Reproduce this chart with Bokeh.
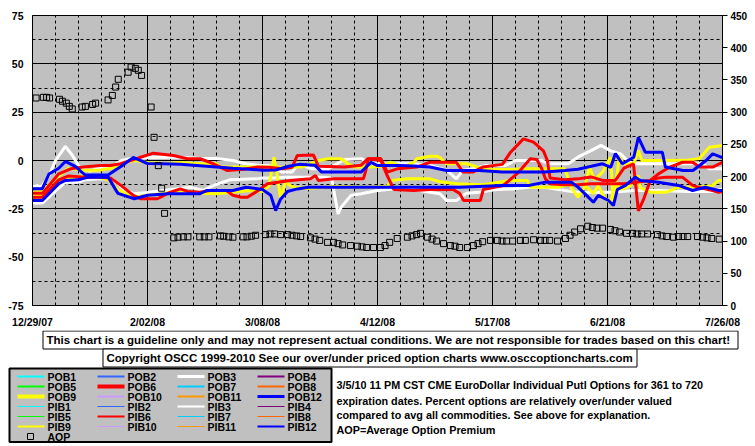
from bokeh.plotting import figure
from bokeh.models import Range1d, LinearAxis, FixedTicker
from bokeh.layouts import column
from bokeh.embed import file_html
from bokeh.resources import INLINE
from bokeh.core.properties import value

# ---------------- data (x = days since 12/29/07) ----------------
date_ticks = [0, 35, 70, 105, 140, 175, 210]
date_labels = ["12/29/07", "2/02/08", "3/08/08", "4/12/08", "5/17/08", "6/21/08", "7/26/08"]
week_ticks = [7, 14, 21, 28, 42, 49, 56, 63, 77, 84, 91, 98, 112, 119, 126, 133,
              147, 154, 161, 168, 182, 189, 196, 203]
pct_ticks = [-75, -50, -25, 0, 25, 50, 75]
pct_labels = ["-75", "-50", "-25", "0", "25", "50", "75"]
pct_minor = [-62.5, -37.5, -12.5, 12.5, 37.5, 62.5]
aop_ticks = [0, 50, 100, 150, 200, 250, 300, 350, 400, 450]

pob3_x = [0, 3, 5, 7, 10, 12, 14.5, 17.5, 20, 24, 27, 30, 35, 40, 45, 51, 56, 61, 65, 69,
          72, 76, 79, 81, 85, 90, 95, 100, 104, 110, 116, 121, 126, 129, 131, 134, 138, 144,
          147, 155, 157, 163, 166, 171, 173, 176, 179, 181, 183, 195, 204, 206, 210]
pob3_y = [-13, -13, -8, 0, 7.3, 3, -4, -5.5, -4, -3.4, 0, 1, 1.5, 1.7, 1.7, 1, 1, 0, -1.7, -2.6,
          -2.6, -6, -6, -1.7, -4.3, -4.3, 0.5, 0.9, -1.7, -1.7, -1.7, -2.6, -5, -9.5, -5, -4.3,
          -2.6, -2.6, 0, 0, -1.7, -1.7, 1.7, 6, 7.8, 5, 3.4, 0, -1.7, -1.7, -1.7, -4.3, -4.3]

pib3_x = [0, 3, 5.5, 10, 14, 16, 20, 24, 26, 28, 31, 35, 40, 45, 48, 52, 55, 60, 68, 70,
          74, 77, 80, 84, 88, 91, 93, 94, 97, 100, 105, 110, 116, 121, 124, 126, 129, 132,
          136, 141, 146, 151, 156, 162, 166, 176, 183, 190, 200, 207, 210]
pib3_y = [-22, -22, -18, -11.2, -11.2, -10, -9.5, -9.5, -12, -15.5, -17.2, -16.5, -15.5, -14.5,
          -13.8, -15.5, -13, -10, -9.5, -9, -9, -8.6, -8.6, -8.6, -8.6, -9, -27.6, -24, -18,
          -17.2, -15.5, -14.7, -15, -16.4, -17.2, -20.7, -20.7, -17, -16.4, -15, -14.7, -13.8,
          -13.8, -15.5, -16.4, -16.4, -15.5, -15.5, -16, -16, -14.7]

pob9_x = [0, 3, 8, 11, 15, 20, 24, 28, 31, 35, 40, 45, 51, 56, 57, 65, 71, 76, 79, 82,
          85.5, 87, 90, 94, 96, 98, 103, 106, 109, 113, 116, 117, 121, 123, 124, 126, 132,
          134, 137, 141, 145, 150, 156, 162, 164, 166, 168, 169.5, 171, 173.5, 175.9, 176.8,
          178.6, 180, 183, 184.4, 185.5, 191.7, 199.7, 203, 206, 210]
pob9_y = [-16.4, -16, -8, -4, -5, -5, -4, -1, 0, -1, -1.5, -1, -1.7, -1.7, -3.4, -3.4, -3.4,
          -3.5, -3.4, -3.4, -1, 0, 0.9, 0.9, -1.7, -3.4, -3.4, -3, -0.9, -3.4, -1, 0.9, 2.2,
          2.2, 1.5, -1.7, -1.7, -2.6, -4.3, -4.7, -4.7, -4.3, -4.3, -4.3, -14, -19, -14, -3.4,
          -10, -6, 1.7, -20.7, 1.7, -1.7, -1.7, 5.2, 0, 0, 0.3, 1, 6.9, 7.8]

pib9_x = [0, 3, 8, 11, 15, 20, 23, 26, 30.7, 35, 40, 45, 51, 56, 61, 66, 70, 72, 73.5, 74.5,
          75.5, 77, 78.5, 80, 83, 88, 92, 100, 103, 108, 109, 114, 121, 124, 129, 137, 143,
          145, 150.6, 151.5, 156, 160, 164, 168, 170.7, 172.2, 174, 175.9, 177.4, 179.5, 182,
          184.4, 185, 188, 193, 196.6, 203, 207, 208.8, 210]
pib9_y = [-18, -18, -12, -9, -8, -8.6, -10, -15, -19, -18, -17, -16.4, -17, -17.2, -16.4,
          -15.5, -16, -13, 1.7, -8, -19, -11.2, -13, -14, -14.5, -14, -13.5, -13.8, -13.8,
          -13.5, -10.3, -9.5, -9.5, -11, -12, -12.5, -11, -10.3, -10.3, -13.8, -13.8, -13.8,
          -12, -12.5, -17, -13, -19, -22, -12, -15, -13, -7.8, -14, -16.4, -16.4, -13.8,
          -13.8, -12.9, -10.3, -10.3]

pob6_x = [0, 3, 8, 11.6, 15.5, 20.7, 23.7, 26.8, 32.9, 36.8, 42.9, 47.2, 51.1, 55.1, 59.3,
          64.2, 68.5, 72, 76, 79, 80.6, 85.5, 87, 95, 100, 102, 106, 108, 111, 117, 121, 129,
          131, 134, 137, 143, 145.5, 149.4, 152.5, 155.5, 156.7, 157.5, 162, 166, 170, 173.5,
          177.4, 180, 182.9, 184.4, 186, 188, 190.5, 194, 197.8, 200.9, 203, 207, 210]
pob6_y = [-17, -17, -6.9, -4.3, -3.4, -2.6, -2.6, -1.7, 1.7, 3.8, 2.6, 0.9, 0.9, -1.7, -5.2,
          -4.5, -3.4, -3.5, -4.3, -3.5, 2.6, 2.9, -3, -3.4, -2.5, 0.9, 1, -6, -4.3, -3.4, -0.9,
          -0.9, -6, -6, -3.4, -2, 4.3, 11.2, 9.5, 5, 0, -9, -10, -9.5, -8.5, -10.3, -10.3, -4,
          -1.7, -26, -20, -10.3, -6.9, -3.4, -0.9, -0.9, -3.4, -3.4, -0.9]

pib6_x = [0, 3, 8, 11, 16, 20, 23.7, 27, 30.7, 33, 38, 42, 45, 47.2, 51, 54, 59, 61, 63.5,
          65.4, 67.3, 69.4, 71.5, 78.5, 84.6, 86.1, 87, 91.6, 100.7, 101.3, 102.3, 106, 108,
          110, 116, 121, 128, 130, 131.2, 136.3, 137.2, 143.3, 148, 151.5, 153.5, 155, 156.1,
          157.5, 162, 166, 170, 175, 180, 185, 188, 190.5, 193, 197.8, 200.9, 203, 207,
          208.8, 210]
pib6_y = [-19, -19, -10, -8, -8.6, -8.6, -9, -13, -18, -19.8, -19.8, -16.4, -14.7, -16, -16.4,
          -15.5, -15.5, -18, -19, -19, -17, -14.7, -12, -10.3, -9.5, -7.8, -10.3, -9.5, -9.5,
          -6, 0.9, 0, -8, -15, -15.5, -15, -15, -17, -20.7, -20.7, -15, -12.9, -6, 0.9, 0.5,
          -4.3, -9.5, -12, -12.5, -12.5, -12, -12, -12, -11, -10.3, -9, -8.6, -8.6, -12.9,
          -14, -15.5, -16.4, -16]

pob12_x = [0, 3, 5, 8, 10, 13, 16, 20, 23, 27, 30.7, 35, 40, 45, 50, 56, 61, 66, 70, 74,
           78, 81, 86, 88, 100, 103, 105, 112, 116, 121, 126, 136, 143, 156, 162, 166, 173.5,
           176, 177.4, 179.5, 183, 184.4, 186.5, 191.7, 192.6, 198, 201, 205, 207, 210]
pob12_y = [-14.6, -14.6, -7, -4, -0.5, -3, -7.5, -7.5, -7.5, -3, 1.6, -1.6, -1.7, -2, -2.6,
           -3.4, -4, -4.5, -5, -4.9, -3, -2, -2.5, -6, -6, -1, -2.6, -2.6, -2.8, -3.4, -5.2,
           -5.2, -6, -6, -5.2, -4.5, -1.7, -3.5, 3.6, -1.7, 1.7, 12, 4.3, 4.3, -3.4, -5.2,
           -5.2, 0, 3.4, 1.5]

pib12_x = [0, 3, 8, 10, 14, 17, 23, 26, 31, 35, 41, 51, 53, 61, 65, 70, 72.5, 74, 75.5,
           77.6, 80.6, 84, 100, 113, 130, 143, 151, 156, 164, 166, 168, 170.7, 172.2, 175.3,
           176.8, 178, 180.5, 183.5, 185, 190.5, 196.6, 200.9, 204.8, 208.8, 210]
pib12_y = [-20.7, -20.7, -12, -10.3, -10, -8.6, -8.6, -17, -19.8, -18, -17.2, -17.2, -15.5,
           -15.5, -13.8, -15, -18, -25.9, -20, -16, -14.7, -13.8, -13.8, -13.8, -13.8, -12.9,
           -12.9, -11.2, -11.2, -13.8, -17, -21.6, -18, -20.7, -23.3, -15, -12.9, -8.6, -10.3,
           -11.2, -12.9, -15.5, -13.8, -15.5, -15.5]

aop_x = [1.1, 3.3, 4.3, 5.2, 8.2, 9.1, 10.3, 11.2, 12.1, 15.1, 16.1, 18.3, 19.2, 23.0, 24.3,
         25.3, 26.1, 29.1, 30.0, 31.3, 32.2, 33.2, 36.1, 37.0, 38.3, 39.3, 40.2, 43.0, 44.3,
         45.9, 47.3, 50.9, 52.3, 53.7, 57.2, 58.2, 59.7, 61.0, 64.1, 65.3, 66.6, 67.9, 70.9,
         72.3, 73.7, 75.5, 77.6, 79.0, 80.4, 81.6, 84.6, 86.0, 87.4, 89.8, 91.6, 93.0, 94.4,
         96.8, 98.9, 100.3, 101.7, 103.8, 105.9, 107.3, 108.7, 111.0, 114.1, 115.5, 116.9,
         118.1, 120.2, 121.6, 123.0, 125.1, 127.2, 128.6, 130.0, 132.4, 134.2, 135.6, 137.0,
         139.4, 141.5, 142.9, 144.3, 146.1, 148.5, 150.0, 152.5, 154.6, 156.0, 157.4, 159.8,
         162.2, 163.6, 165.0, 166.8, 169.0, 170.4, 171.8, 173.5, 175.9, 177.3, 178.7, 180.8,
         182.6, 184.0, 185.4, 187.2, 190.2, 191.6, 193.0, 195.1, 196.6, 198.0, 199.4, 202.4,
         203.9, 205.3, 206.7, 209.0]
aop_y = [322, 323, 323, 322, 320, 317, 314, 309, 305, 308, 309, 312, 314, 319, 326, 339, 351,
         362, 370, 368, 365, 357, 308, 261, 217, 182, 143, 105, 106, 106.5, 106.5, 106.5,
         106.5, 106.5, 108, 107.5, 106.5, 106, 106.5, 106.5, 107.5, 109, 110, 111, 111, 110,
         110, 109, 108, 107, 105, 103, 101, 98, 98, 96, 94, 93, 92, 91, 90, 90, 90, 93, 98,
         104, 106, 108, 110, 112, 106, 103, 100, 96, 93, 92, 90, 90, 93, 96, 99, 101, 101, 100,
         100, 100, 101, 101, 102, 101, 101, 101, 100, 104, 109, 114, 119, 123, 121, 120, 120,
         118, 116, 114, 112, 112, 111, 111, 111, 110, 108, 107, 106, 107, 107, 107, 107, 106,
         105, 104, 103]

legend_names = ["POB1", "POB2", "POB3", "POB4", "POB5", "POB6", "POB7", "POB8", "POB9",
                "POB10", "POB11", "POB12", "PIB1", "PIB2", "PIB3", "PIB4", "PIB5", "PIB6",
                "PIB7", "PIB8", "PIB9", "PIB10", "PIB11", "PIB12"]
legend_colors = ["#00FFFF", "#3366FF", "#FFFFFF", "#800080", "#00FF00", "#FF0000", "#00CCFF",
                 "#FF6600", "#FFFF00", "#CC99FF", "#FF9900", "#0000FF"] * 2
legend_widths = [2, 2, 3, 2, 2, 4, 2, 2, 4, 2, 2, 3, 1, 1, 2, 1, 1, 2, 1, 1, 2, 1, 1, 2]

note_lines = ["3/5/10 11 PM CST CME EuroDollar Individual Putl Options for 361 to 720",
              "expiration dates. Percent options are relatively over/under valued",
              "compared to avg all commodities. See above for explanation.",
              "AOP=Average Option Premium"]
disclaimer = "This chart is a guideline only and may not represent actual conditions. We are not responsible for trades based on this chart!"
copyright_text = "Copyright OSCC 1999-2010 See our over/under priced option charts www.osccoptioncharts.com"

FONT = "Liberation Sans"

# ---------------- main chart ----------------
p = figure(frame_width=690, frame_height=290, x_range=Range1d(0, 210), y_range=Range1d(-75, 75),
           output_backend="svg", toolbar_location=None,
           min_border_left=32, min_border_right=25, min_border_top=15, min_border_bottom=25,
           background_fill_color="#C0C0C0", border_fill_color="white",
           outline_line_color="black")
p.frame_align = False
p.extra_y_ranges = {"aop": Range1d(0, 450)}

p.xaxis.ticker = FixedTicker(ticks=date_ticks)
p.xaxis.major_label_overrides = dict(zip(date_ticks, date_labels))
p.yaxis.ticker = FixedTicker(ticks=pct_ticks)
p.yaxis.major_label_overrides = dict(zip(pct_ticks, pct_labels))
for ax in (p.xaxis, p.yaxis):
    ax.major_tick_out = 0
    ax.major_tick_in = 0
    ax.minor_tick_out = 0
    ax.minor_tick_in = 0
    ax.axis_line_color = "black"
    ax.major_label_text_font = FONT
    ax.major_label_text_font_style = "bold"
    ax.major_label_text_font_size = "10.5px"
    ax.major_label_text_color = "black"
p.xaxis.major_label_standoff = 10
p.yaxis.major_label_standoff = 9

rax = LinearAxis(y_range_name="aop", ticker=FixedTicker(ticks=aop_ticks))
rax.major_tick_out = 5
rax.major_tick_in = 0
rax.minor_tick_out = 0
rax.minor_tick_in = 0
rax.major_label_standoff = 3
rax.major_label_text_font = FONT
rax.major_label_text_font_style = "bold"
rax.major_label_text_font_size = "10px"
rax.major_label_text_color = "black"
rax.axis_line_color = "black"
rax.major_tick_line_color = "black"
p.add_layout(rax, "right")

p.xgrid.ticker = FixedTicker(ticks=date_ticks, minor_ticks=week_ticks)
p.ygrid.ticker = FixedTicker(ticks=pct_ticks, minor_ticks=pct_minor)
for g in (p.xgrid, p.ygrid):
    g.grid_line_color = "black"
    g.grid_line_width = 1
    g.grid_line_alpha = 1
    g.minor_grid_line_color = "black"
    g.minor_grid_line_dash = "3 3"
    g.minor_grid_line_width = 1

series = [
    (pob3_x, pob3_y, "#FFFFFF"), (pib3_x, pib3_y, "#FFFFFF"),
    (pob9_x, pob9_y, "#FFFF00"), (pib9_x, pib9_y, "#FFFF00"),
    (pib6_x, pib6_y, "#FF0000"), (pob6_x, pob6_y, "#FF0000"),
    (pib12_x, pib12_y, "#0000FF"), (pob12_x, pob12_y, "#0000FF"),
]
for xs, ys, c in series:
    p.line(xs, ys, line_color=c, line_width=3)

p.scatter(aop_x, aop_y, marker="square", size=6, fill_color=None, line_color="black",
          line_width=1, y_range_name="aop")

# ---------------- lower panel (notes + legend), coordinates in page pixels ----------------
q = figure(frame_width=747, frame_height=116, x_range=Range1d(0, 747), y_range=Range1d(446, 330),
           output_backend="svg", toolbar_location=None,
           min_border_left=0, min_border_right=0, min_border_top=0, min_border_bottom=0,
           x_axis_location=None, y_axis_location=None,
           background_fill_color="white", border_fill_color="white", outline_line_color=None)
q.frame_align = False
q.xgrid.visible = False
q.ygrid.visible = False

q.quad(left=[42.5, 102.5], right=[737.5, 636.5], top=[330.5, 348.5], bottom=[348.5, 366.5],
       fill_color="white", line_color="black", line_width=1)
q.text(x=[46, 106], y=[339.5, 357.5], text=[disclaimer, copyright_text],
       text_font=value(FONT), text_font_style="bold", text_font_size=value("11.5px"),
       text_baseline="middle", text_align="left", text_color="black")

# legend box
q.quad(left=[9], right=[331], top=[368], bottom=[441.5], fill_color="#C0C0C0",
       line_color="black", line_width=2)
row_y = [376 + 10 * r for r in range(7)]
col_x = [17, 97, 177, 257]
seg_x0, seg_x1, seg_y, seg_c, seg_w, lab_x, lab_y = [], [], [], [], [], [], []
for i, name in enumerate(legend_names):
    r, c = divmod(i, 4)
    seg_x0.append(col_x[c]); seg_x1.append(col_x[c] + 27); seg_y.append(row_y[r])
    seg_c.append(legend_colors[i]); seg_w.append(legend_widths[i])
    lab_x.append(col_x[c] + 30); lab_y.append(row_y[r])
q.segment(x0=seg_x0, y0=seg_y, x1=seg_x1, y1=seg_y, line_color=seg_c, line_width=seg_w)
q.scatter([30], [row_y[6]], marker="square", size=6, fill_color=None, line_color="black")
q.text(x=lab_x + [47], y=lab_y + [row_y[6]], text=legend_names + ["AOP"],
       text_font=value(FONT), text_font_style="bold", text_font_size=value("10.5px"),
       text_baseline="middle", text_align="left", text_color="black")

q.text(x=[336] * 4, y=[384, 400, 414.5, 429], text=note_lines,
       text_font=value(FONT), text_font_style="bold", text_font_size=value("10.8px"),
       text_baseline="middle", text_align="left", text_color="black")

layout = column(p, q, spacing=0)
open("out.html", "w").write(file_html(layout, INLINE))
